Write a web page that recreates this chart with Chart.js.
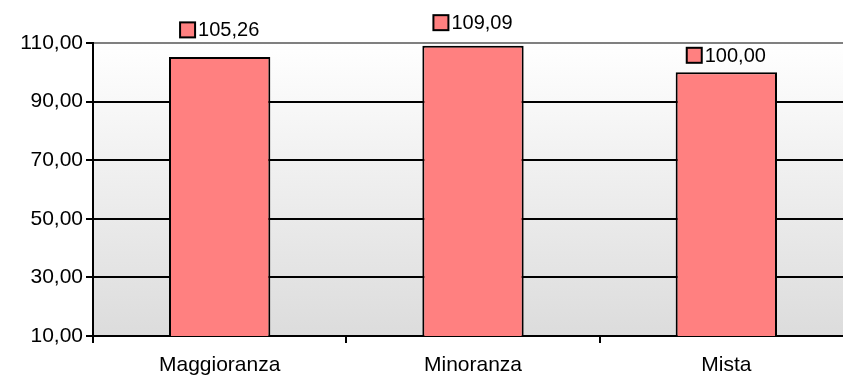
<!DOCTYPE html>
<html>
<head>
<meta charset="utf-8">
<script src="https://cdn.jsdelivr.net/npm/chart.js@4/dist/chart.umd.min.js"></script>
<style>
  html, body { margin: 0; padding: 0; background: #fff; overflow: hidden; }
  canvas { display: block; }
</style>
</head>
<body>
<canvas id="bars" width="856" height="378"></canvas>
<script>
const categories = ['Maggioranza', 'Minoranza', 'Mista'];
const values = [105.26, 109.09, 100.00];
const yTicks = [10, 30, 50, 70, 90, 110];

const fmt = v => v.toFixed(2).replace('.', ',');
const FONT = '"Liberation Sans", Arial, sans-serif';

// grey gradient behind the plot area
const plotBackground = {
  id: 'plotBackground',
  beforeDraw(chart) {
    const { ctx, chartArea: a } = chart;
    const g = ctx.createLinearGradient(0, a.top, 0, a.bottom);
    g.addColorStop(0, '#ffffff');
    g.addColorStop(1, '#dcdcdc');
    ctx.save();
    ctx.fillStyle = g;
    ctx.fillRect(a.left, a.top, a.right - a.left, a.bottom - a.top);
    ctx.restore();
  }
};

// value labels with the little legend key in front
const valueLabels = {
  id: 'valueLabels',
  afterDatasetsDraw(chart, args, opts) {
    const { ctx } = chart;
    const meta = chart.getDatasetMeta(0);
    ctx.save();
    ctx.font = '20px ' + FONT;
    ctx.textBaseline = 'middle';
    meta.data.forEach((bar, i) => {
      const txt = fmt(values[i]);
      const tw = ctx.measureText(txt).width;
      const key = 15, gap = 3;
      const total = key + gap + tw;
      const x0 = bar.x - total / 2;
      const cy = bar.y - opts.offsets[i];
      ctx.fillStyle = '#FF8080';
      ctx.strokeStyle = '#000';
      ctx.lineWidth = 2;
      ctx.fillRect(x0, cy - key / 2, key, key);
      ctx.strokeRect(x0, cy - key / 2, key, key);
      ctx.fillStyle = '#000';
      ctx.textAlign = 'left';
      ctx.fillText(txt, x0 + key + gap, cy + 1);
    });
    ctx.restore();
  }
};

new Chart(document.getElementById('bars'), {
  type: 'bar',
  data: {
    labels: categories,
    datasets: [{
      data: values,
      backgroundColor: '#FF8080',
      borderColor: '#000',
      borderWidth: 2,
      borderSkipped: false,
      barPercentage: 0.4,
      categoryPercentage: 1
    }]
  },
  options: {
    responsive: false,
    animation: false,
    layout: { padding: { top: 43, right: 3, left: 0, bottom: 0 } },
    plugins: {
      legend: { display: false },
      tooltip: { enabled: false },
      valueLabels: { offsets: [27, 23, 17] }
    },
    scales: {
      y: {
        min: yTicks[0],
        max: yTicks[yTicks.length - 1],
        afterBuildTicks: s => { s.ticks = yTicks.map(v => ({ value: v })); },
        afterFit: s => { s.width = 93; },
        ticks: {
          callback: v => fmt(v),
          color: '#000',
          font: { family: FONT, size: 21 },
          padding: 3
        },
        grid: {
          color: c => (c.tick && c.tick.value === 110 ? '#808080' : '#000'),
          lineWidth: 2,
          tickColor: '#000',
          tickLength: 7
        },
        border: { color: '#000', width: 2 }
      },
      x: {
        afterFit: s => { s.height = 42; },
        ticks: {
          color: '#000',
          font: { family: FONT, size: 21 },
          padding: 10
        },
        grid: {
          offset: true,
          drawOnChartArea: false,
          color: '#000',
          lineWidth: 2,
          tickLength: 7
        },
        border: { color: '#000', width: 2 }
      }
    }
  },
  plugins: [plotBackground, valueLabels]
});
</script>
</body>
</html>
